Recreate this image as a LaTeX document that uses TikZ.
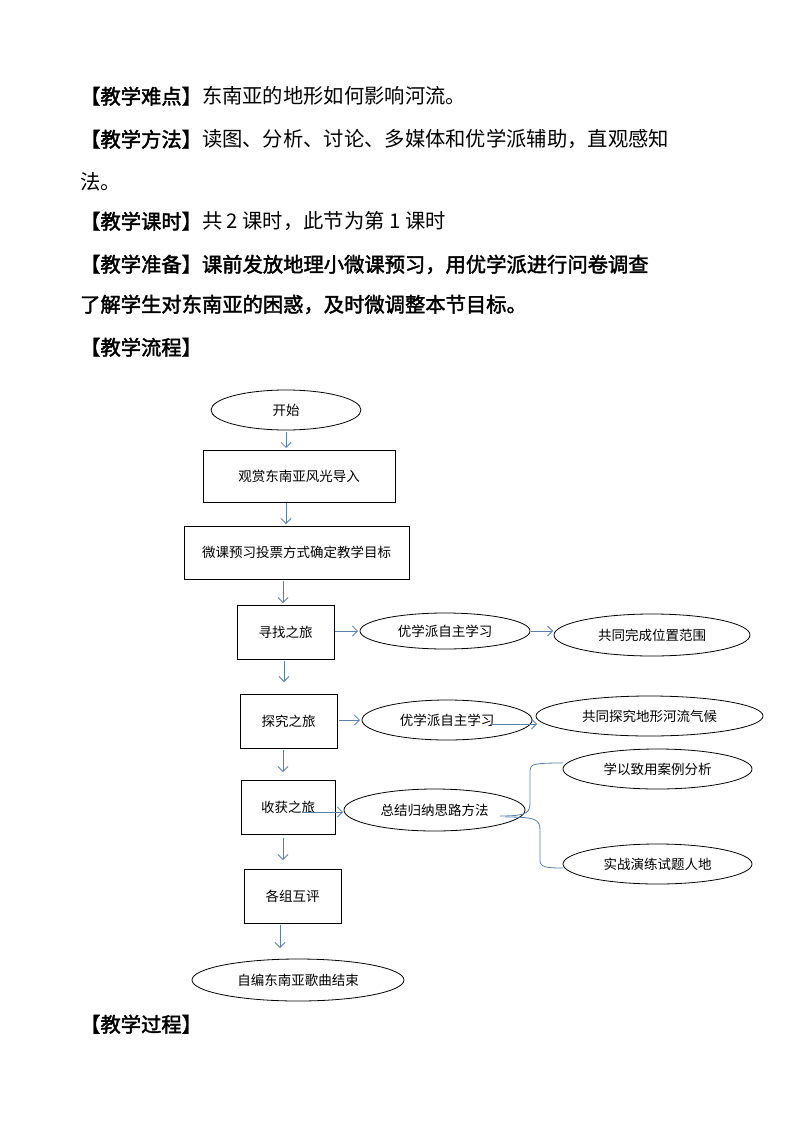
\documentclass[tikz,border=0pt]{standalone}
\usepackage{fontspec}
\setmainfont{Noto Sans CJK SC}
\newfontfamily\cjkb[FakeBold=2]{Noto Sans CJK SC}
\usetikzlibrary{arrows.meta,shapes.geometric}
\definecolor{ac}{HTML}{5B7FA8}
\begin{document}
\begin{tikzpicture}[x=1pt,y=-1pt,
  txt/.style={anchor=base west,inner sep=0,font=\fontsize{20.3}{22}\selectfont},
  bx/.style={draw,thick,rectangle,inner sep=0,font=\fontsize{13.5}{15}\selectfont},
  el/.style={draw,thick,ellipse,inner sep=0,font=\fontsize{13.5}{15}\selectfont},
  ar/.style={ac,thick,-{Straight Barb[length=5pt,width=10pt]}}]
\useasboundingbox (0,0) rectangle (794,1123);
\node[txt] (t1) at (80,104) {{\cjkb 【教学难点】}东南亚的地形如何影响河流。};
\node[txt] (t2) at (80,147) {{\cjkb 【教学方法】}读图、分析、讨论、多媒体和优学派辅助，直观感知};
\node[txt] (t3) at (80,190) {法。};
\node[txt] (t4) at (80,229) {{\cjkb 【教学课时】}共 2 课时，此节为第 1 课时};
\node[txt] (t5) at (80,272) {\cjkb 【教学准备】课前发放地理小微课预习，用优学派进行问卷调查};
\node[txt] (t6) at (80,312) {\cjkb 了解学生对东南亚的困惑，及时微调整本节目标。};
\node[txt] (t7) at (80,355) {\cjkb 【教学流程】};
\node[txt] (t8) at (80,1032) {\cjkb 【教学过程】};

\node[el,minimum width=150,minimum height=40] (s) at (286,410) {开始};
\node[bx,minimum width=192,minimum height=52] (b1) at (299,476) {观赏东南亚风光导入};
\node[bx,minimum width=225,minimum height=53] (b2) at (296.5,552.5) {微课预习投票方式确定教学目标};
\node[bx,minimum width=97,minimum height=54] (b3) at (285.5,632) {寻找之旅};
\node[el,minimum width=170,minimum height=36] (e1) at (445,631) {优学派自主学习};
\node[el,minimum width=196,minimum height=42] (e2) at (652,635) {共同完成位置范围};
\node[bx,minimum width=97,minimum height=54] (b4) at (288.5,721) {探究之旅};
\node[el,minimum width=170,minimum height=40] (e3) at (447,720) {优学派自主学习};
\node[el,minimum width=227,minimum height=40] (e4) at (649.5,716) {共同探究地形河流气候};
\node[bx,minimum width=94,minimum height=54] (b5) at (288,807) {收获之旅};
\node[el,minimum width=181,minimum height=42] (e5) at (434.5,810) {总结归纳思路方法};
\node[el,minimum width=189,minimum height=40] (e6) at (657.5,769) {学以致用案例分析};
\node[el,minimum width=189,minimum height=40] (e7) at (657.5,864) {实战演练试题人地};
\node[bx,minimum width=97,minimum height=54] (b6) at (292.5,896) {各组互评};
\node[el,minimum width=212,minimum height=42] (e8) at (298,980) {自编东南亚歌曲结束};

\draw[ar] (s.south -| 286,0) ++(0,2) -- (286,448);
\draw[ar] (286,503) -- (286,524);
\draw[ar] (283,581) -- (283,603);
\draw[ar] (284,661) -- (284,682);
\draw[ar] (283,750) -- (283,772);
\draw[ar] (283,838) -- (283,860);
\draw[ar] (280,925) -- (280,948);
\draw[ar] (b3.east |- 0,631) ++(1,0) -- (358,631);
\draw[ar] (e1.east) ++(1,0) -- (553,631);
\draw[ar] (b4.east |- 0,720) ++(2,0) -- (360,720);
\draw[ar] (490,724) -- (537,724);
\draw[ar] (302,812) -- (343,812);
\draw[ac,thick] (500,816) .. controls (530,816) and (530,812) .. (530,800) -- (530,770) .. controls (530,764) and (535,763) .. (563,763);
\draw[ac,thick] (505,817) .. controls (535,817) and (540,819) .. (540,830) -- (540,860) .. controls (540,867) and (545,868) .. (563,868);
\end{tikzpicture}
\end{document}
